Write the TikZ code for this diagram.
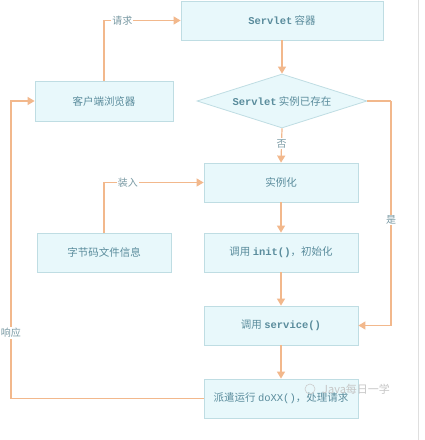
\documentclass[tikz,border=0pt]{standalone}
\usepackage{fontspec}
\setmonofont{Liberation Mono}
\newfontfamily\cjk{Noto Sans CJK SC}
\usetikzlibrary{shapes.geometric,arrows.meta}
\definecolor{boxfill}{HTML}{E8F8FB}
\definecolor{boxline}{HTML}{BFDDE3}
\definecolor{txt}{HTML}{5A8C9C}
\definecolor{arr}{HTML}{F2B88C}
\definecolor{lbl}{HTML}{7A9AA4}
\tikzset{
  box/.style={draw=boxline, fill=boxfill, line width=0.8pt, text=txt, font=\cjk\fontsize{10.5}{12}\selectfont, inner sep=0pt, minimum height=39pt},
  dia/.style={diamond, draw=boxline, fill=boxfill, line width=0.8pt, text=txt, font=\cjk\fontsize{10.5}{12}\selectfont, inner sep=0pt, minimum width=170pt, minimum height=54pt, aspect=3.15},
  conn/.style={draw=arr, line width=1.2pt, -{Triangle[length=7pt,width=8pt]}},
  plain/.style={draw=arr, line width=1.2pt},
  lab/.style={fill=white, text=lbl, font=\cjk\fontsize{10}{12}\selectfont, inner sep=1pt},
}
\newcommand{\mt}[1]{{\ttfamily\bfseries #1}}
\begin{document}
\begin{tikzpicture}[x=1pt,y=-1pt]
\useasboundingbox (0,0) rectangle (424,440);
\fill[white] (0,0) rectangle (424,440);
\draw[gray!25, line width=0.8pt] (418,0) -- (418,440);
% nodes
\node[box, minimum width=202pt] (cont) at (282,20.5) {\mt{Servlet} 容器};
\node[box, minimum width=138pt, minimum height=40pt] (cli) at (104,101) {客户端浏览器};
\node[dia] (ex) at (282,101) {\mt{Servlet} 实例已存在};
\node[box, minimum width=154pt] (inst) at (281,182.5) {实例化};
\node[box, minimum width=134pt] (byte) at (104,252.5) {字节码文件信息};
\node[box, minimum width=154pt] (init) at (281,252.5) {调用 \mt{init()}，初始化};
\node[box, minimum width=154pt] (serv) at (281,325.5) {调用 \mt{service()}};
\node[box, minimum width=154pt] (dox) at (281,398.5) {派遣运行 \texttt{doXX()}，处理请求};
% connectors
\draw[conn] (cli.north) |- node[lab, pos=0.62] {请求} (cont.west);
\draw[conn] (cont.south) -- (ex.north);
\draw[conn] (ex.south) -- node[lab, pos=0.45] {否} (inst.north);
\draw[conn] (byte.north) |- node[lab, pos=0.62] {装入} (inst.west);
\draw[conn] (inst.south) -- (init.north);
\draw[conn] (init.south) -- (serv.north);
\draw[conn] (serv.south) -- (dox.north);
\coordinate (r1) at (391,101);
\coordinate (r2) at (391,325.5);
\draw[plain] (ex.east) -- (r1);
\draw[conn] (r1) -- node[lab, pos=0.53] {是} (r2) -- (serv.east);
\coordinate (l1) at (11,398.5);
\coordinate (l2) at (11,101);
\draw[plain] (dox.west) -- (l1);
\draw[conn] (l1) -- node[lab, pos=0.22] {响应} (l2) -- (cli.west);
% watermark
\node[text=gray!45, font=\cjk\fontsize{11}{13}\selectfont, anchor=west, inner sep=0pt] (wm) at (322,389) {Java每日一学};
\draw[gray!40, line width=0.6pt] (310,389) circle (5pt);
\end{tikzpicture}
\end{document}
